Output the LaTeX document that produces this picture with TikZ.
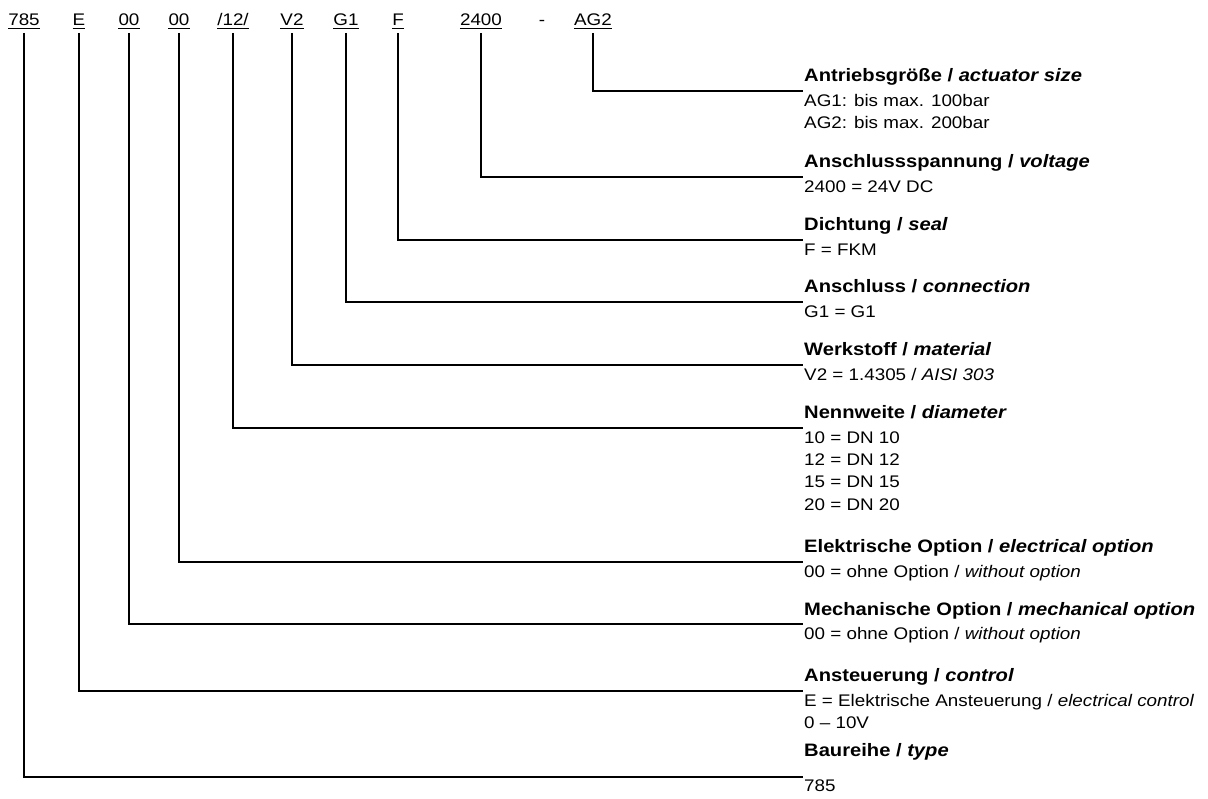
\documentclass[tikz,border=0pt]{standalone}
\usepackage{fontspec}
\newfontfamily\bodyfam[FakeStretch=1.12]{Liberation Sans}
\newfontfamily\headfam[FakeStretch=1.12]{Liberation Sans}
\newcommand\bfnt{\bodyfam\fontsize{16.8}{20}\selectfont}
\newcommand\hfnt{\headfam\bfseries\fontsize{18}{21}\selectfont}
\begin{document}
\begin{tikzpicture}[x=1pt,y=-1pt,
  code/.style={anchor=base,inner sep=0pt,font=\bfnt},
  txt/.style={anchor=base west,inner sep=0pt,font=\bfnt},
  head/.style={anchor=base west,inner sep=0pt,font=\hfnt},
  conn/.style={line width=1.8pt,line join=miter},
  uline/.style={line width=1pt}]
\useasboundingbox (0,0) rectangle (1208,799);

% code row
\node[code] (c1)  at (24,26)  {785};
\node[code] (c2)  at (79,26)  {E};
\node[code] (c3)  at (129,26) {00};
\node[code] (c4)  at (179,26) {00};
\node[code] (c5)  at (233,26) {/12/};
\node[code] (c6)  at (292,26) {V2};
\node[code] (c7)  at (346,26) {G1};
\node[code] (c8)  at (398,26) {F};
\node[code] (c9)  at (481,26) {2400};
\node[code] (cd)  at (542,26) {-};
\node[code] (c10) at (593,26) {AG2};
\foreach \n in {c1,c2,c3,c4,c5,c6,c7,c8,c9,c10}
  \draw[uline] ([yshift=-3pt]\n.base west) -- ([yshift=-3pt]\n.base east);

% connector ends
\coordinate (e10) at (803,90.7);
\coordinate (e9)  at (803,176.7);
\coordinate (e8)  at (803,240);
\coordinate (e7)  at (803,301.7);
\coordinate (e6)  at (803,365);
\coordinate (e5)  at (803,427.7);
\coordinate (e4)  at (803,561.7);
\coordinate (e3)  at (803,624);
\coordinate (e2)  at (803,690.7);
\coordinate (e1)  at (803,777.3);
\foreach \i in {1,...,10}
  \draw[conn] ([yshift=-7pt]c\i.base) |- (e\i);

% text blocks
\node[head] (h10) at (804,81.7) {Antriebsgröße / \textit{actuator size}};
\node[txt] (t10a) at (804,106.2) {AG1: bis max. 100bar};
\node[txt] (t10b) at (804,128.5) {AG2: bis max. 200bar};

\node[head] (h9) at (804,167.7) {Anschlussspannung / \textit{voltage}};
\node[txt] (t9a) at (804,192.2) {2400 = 24V DC};

\node[head] (h8) at (804,231) {Dichtung / \textit{seal}};
\node[txt] (t8a) at (804,255.5) {F = FKM};

\node[head] (h7) at (804,292.7) {Anschluss / \textit{connection}};
\node[txt] (t7a) at (804,317.2) {G1 = G1};

\node[head] (h6) at (804,356) {Werkstoff / \textit{material}};
\node[txt] (t6a) at (804,380.5) {V2 = 1.4305 / \textit{AISI 303}};

\node[head] (h5) at (804,418.7) {Nennweite / \textit{diameter}};
\node[txt] (t5a) at (804,443.2) {10 = DN 10};
\node[txt] (t5b) at (804,465.5) {12 = DN 12};
\node[txt] (t5c) at (804,487.8) {15 = DN 15};
\node[txt] (t5d) at (804,510.1) {20 = DN 20};

\node[head] (h4) at (804,552.7) {Elektrische Option / \textit{electrical option}};
\node[txt] (t4a) at (804,577.2) {00 = ohne Option / \textit{without option}};

\node[head] (h3) at (804,615) {Mechanische Option / \textit{mechanical option}};
\node[txt] (t3a) at (804,639.5) {00 = ohne Option / \textit{without option}};

\node[head] (h2) at (804,681.7) {Ansteuerung / \textit{control}};
\node[txt] (t2a) at (804,706.2) {E = Elektrische Ansteuerung / \textit{electrical control}};
\node[txt] (t2b) at (804,728.5) {0 – 10V};

\node[head] (h1) at (804,756) {Baureihe / \textit{type}};
\node[txt] (t1a) at (804,791) {785};
\end{tikzpicture}
\end{document}
